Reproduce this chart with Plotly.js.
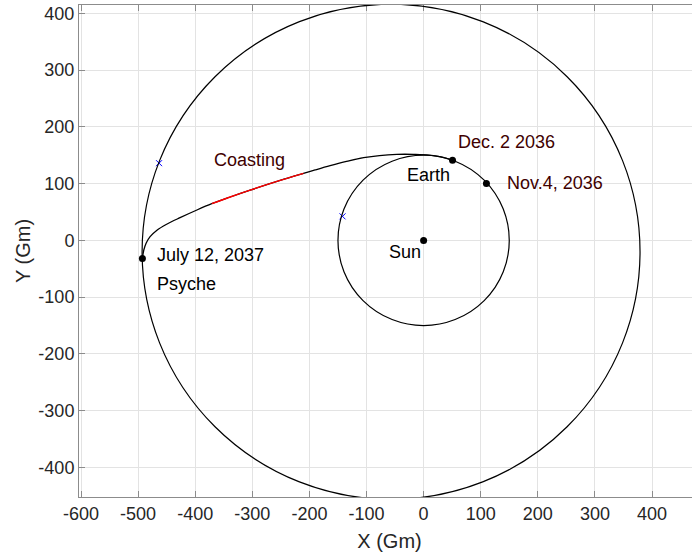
<!DOCTYPE html>
<html>
<head>
<meta charset="utf-8">
<script src="https://cdn.plot.ly/plotly-3.0.1.min.js"></script>
<style>
html,body{margin:0;padding:0;overflow:hidden;background:#fff;}
#chart{width:700px;height:554px;}
</style>
</head>
<body>
<div id="chart"></div>
<script>
// Orbits (circles): name, centre and radius in Gm
var orbitNames = ['Earth orbit', 'Psyche orbit'];
var orbitCenterX = [0, -57];
var orbitCenterY = [0, -20];
var orbitRadius = [150, 436];

// Transfer trajectory (Gm), from Dec. 2 2036 to July 12, 2037
var trajX = [50.6, 30, 10, -15, -46.8, -105, -135, -163.7, -190, -210.4, -251.3, -303.8, -340, -371, -397, -426.5, -450, -467, -479, -486, -490, -492.5];
var trajY = [141, 147, 150.2, 151.4, 151.4, 145.6, 139, 131.5, 124, 118, 105.6, 88.5, 76, 64.6, 53.5, 40, 28.5, 18, 6.5, -5, -17, -32];

// Coasting arc (Gm)
var coastX = [-210.4, -251.3, -303.8, -340, -371];
var coastY = [118, 105.6, 88.5, 76, 64.6];

// Key points (black dots)
var pointNames = ['Sun', 'Nov.4, 2036', 'Dec. 2 2036', 'July 12, 2037'];
var pointX = [0, 110, 50.6, -492.5];
var pointY = [0, 100, 141, -32];

// Blue x markers
var crossX = [-463.3, -142];
var crossY = [136, 42.3];

// Text labels
var labelText = ['Dec. 2 2036', 'Nov.4, 2036', 'Earth', 'Sun', 'July 12, 2037', 'Psyche', 'Coasting'];
var labelX = [57, 143, -32, -64, -470, -471, -370];
var labelY = [173, 100.9, 114.4, -20.6, -25.2, -77, 142];
var labelColor = ['#400000', '#400000', '#000000', '#000000', '#000000', '#000000', '#400000'];

var xTicks = [-600, -500, -400, -300, -200, -100, 0, 100, 200, 300, 400];
var yTicks = [-400, -300, -200, -100, 0, 100, 200, 300, 400];

var FONT = 'Liberation Sans, Arial, sans-serif';

var shapes = orbitNames.map(function (n, i) {
  return {
    type: 'circle', xref: 'x', yref: 'y',
    x0: orbitCenterX[i] - orbitRadius[i], x1: orbitCenterX[i] + orbitRadius[i],
    y0: orbitCenterY[i] - orbitRadius[i], y1: orbitCenterY[i] + orbitRadius[i],
    line: {color: '#000000', width: 1.2}, layer: 'above'
  };
});

var traces = [
  {x: trajX, y: trajY, mode: 'lines', line: {color: '#000000', width: 1.3, shape: 'spline', smoothing: 1}, hoverinfo: 'skip', name: 'trajectory'},
  {x: coastX, y: coastY, mode: 'lines', line: {color: '#ff0000', width: 1.4, shape: 'spline', smoothing: 1}, hoverinfo: 'skip', name: 'coasting'},
  {x: pointX, y: pointY, text: pointNames, mode: 'markers', marker: {color: '#000000', size: 7}, hoverinfo: 'text', name: 'points'},
  {x: crossX, y: crossY, mode: 'markers', marker: {symbol: 'x-thin', size: 6, line: {color: '#0000ff', width: 1}}, hoverinfo: 'skip', name: 'cross'}
];

var annotations = labelText.map(function (t, i) {
  return {
    text: t, x: labelX[i], y: labelY[i], xref: 'x', yref: 'y',
    xanchor: 'left', yanchor: 'middle', showarrow: false,
    font: {family: FONT, size: 18, color: labelColor[i]}
  };
});

var axisCommon = {
  showline: true, linecolor: '#8c8c8c', linewidth: 1,
  mirror: 'ticks', ticks: 'inside', ticklen: 6, tickcolor: '#8c8c8c', tickwidth: 1,
  showgrid: true, gridcolor: '#e3e3e3', gridwidth: 1, zeroline: false,
  tickfont: {family: FONT, size: 18, color: '#262626'}
};

var layout = {
  width: 700, height: 554,
  margin: {l: 79, r: 0, t: 5, b: 57},
  paper_bgcolor: '#ffffff', plot_bgcolor: '#ffffff',
  showlegend: false,
  xaxis: Object.assign({}, axisCommon, {
    range: [-603.5, 484], tickvals: xTicks, ticktext: xTicks.map(String),
    title: {text: 'X (Gm)', font: {family: FONT, size: 20, color: '#262626'}, standoff: 11}
  }),
  yaxis: Object.assign({}, axisCommon, {
    range: [-452, 414.6], tickvals: yTicks, ticktext: yTicks.map(String),
    title: {text: 'Y (Gm)', font: {family: FONT, size: 20, color: '#262626'}, standoff: 2}
  }),
  shapes: shapes,
  annotations: annotations
};

Plotly.newPlot('chart', traces, layout, {displayModeBar: false, staticPlot: true});
</script>
</body>
</html>
